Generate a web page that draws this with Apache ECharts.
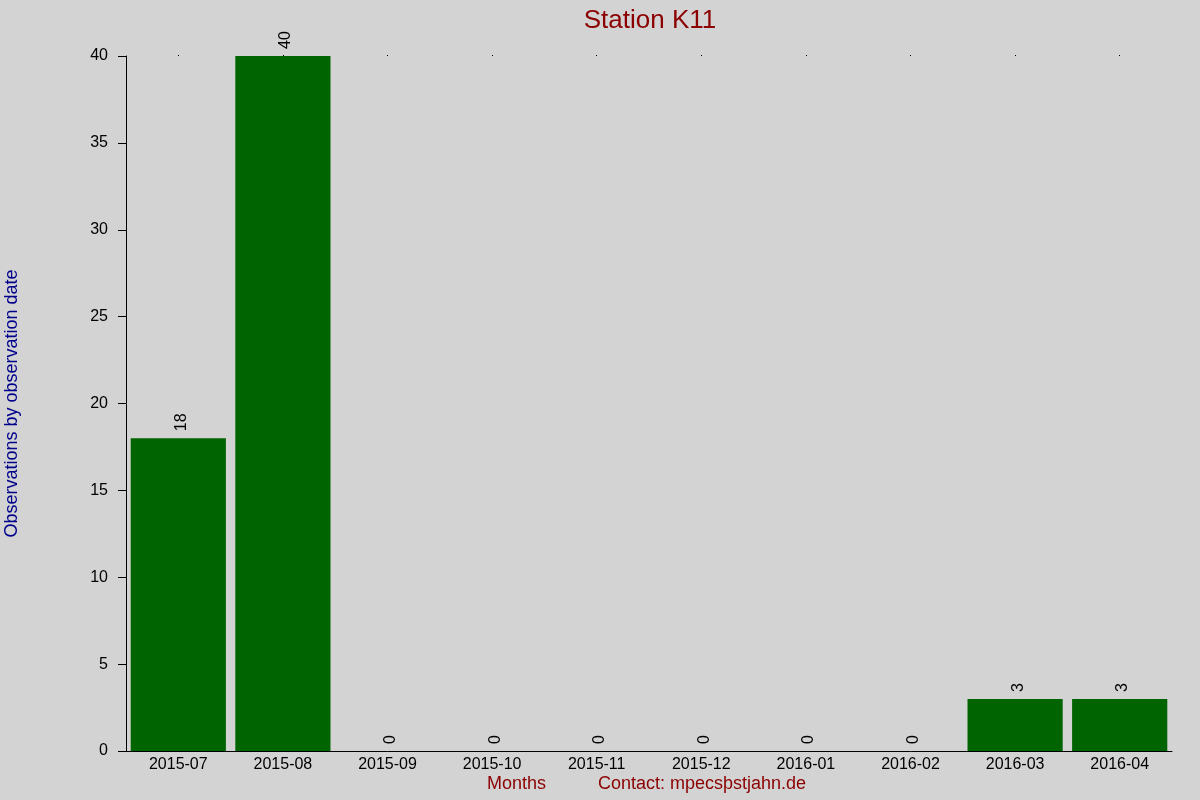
<!DOCTYPE html>
<html>
<head>
<meta charset="utf-8">
<script src="https://cdn.jsdelivr.net/npm/echarts@6/dist/echarts.min.js"></script>
<style>
  html, body { margin: 0; padding: 0; background: #d3d3d3; }
  #chart { width: 1200px; height: 800px; }
</style>
</head>
<body>
<div id="chart"></div>
<script>
var months = ['2015-07', '2015-08', '2015-09', '2015-10', '2015-11', '2015-12', '2016-01', '2016-02', '2016-03', '2016-04'];
var observations = [18, 40, 0, 0, 0, 0, 0, 0, 3, 3];
var yTicks = { min: 0, max: 40, interval: 5 };

var font = 'Liberation Sans, Arial, sans-serif';

var option = {
	backgroundColor: '#d3d3d3',
	animation: false,
	title: {
		text: 'Station K11',
		left: 645,
		top: 3,
		textAlign: 'center',
		textStyle: { color: '#8b0000', fontSize: 26, fontWeight: 'normal', fontFamily: font },
	},
	grid: { left: 126, right: 28, top: 56, bottom: 49, outerBoundsMode: 'none', containLabel: false },
	xAxis: [{
			type: 'category',
			data: months,
			axisLine: { lineStyle: { color: '#000', width: 1 } },
			axisTick: { show: false },
			axisLabel: { color: '#000', fontSize: 16, fontFamily: font, margin: 6 },
		},
		{
			// tiny dots along the top edge
			type: 'category',
			data: months,
			position: 'top',
			axisLine: { show: false },
			axisTick: { show: true, length: 1, alignWithLabel: true, lineStyle: { color: '#000' } },
			axisLabel: { show: false },
		},
	],
	yAxis: {
		type: 'value',
		min: yTicks.min,
		max: yTicks.max,
		interval: yTicks.interval,
		name: 'Observations by observation date',
		nameLocation: 'middle',
		nameGap: 105,
		nameTextStyle: { color: '#00008b', fontSize: 18, fontFamily: font },
		axisLine: { show: true, lineStyle: { color: '#000', width: 1 } },
		axisTick: { show: true, length: 8, lineStyle: { color: '#000' } },
		axisLabel: { color: '#000', fontSize: 16, fontFamily: font, margin: 18 },
		splitLine: { show: false },
	},
	graphic: [{
			type: 'text',
			left: 487,
			top: 775,
			style: { text: 'Months', fill: '#8b0000', fontSize: 18, fontFamily: font },
		},
		{
			type: 'text',
			left: 598,
			top: 775,
			style: { text: 'Contact: mpecsþstjahn.de', fill: '#8b0000', fontSize: 18, fontFamily: font },
		},
	],
	series: [{
		type: 'bar',
		data: observations,
		barCategoryGap: '9%',
		itemStyle: { color: '#006400' },
		label: {
			show: true,
			position: 'top',
			rotate: 90,
			align: 'left',
			verticalAlign: 'middle',
			distance: 7,
			offset: [0, 3],
			color: '#000',
			fontSize: 16,
			fontFamily: font,
		},
	}],
};

var myChart = echarts.init(document.getElementById('chart'));
myChart.setOption(option);
</script>
</body>
</html>
